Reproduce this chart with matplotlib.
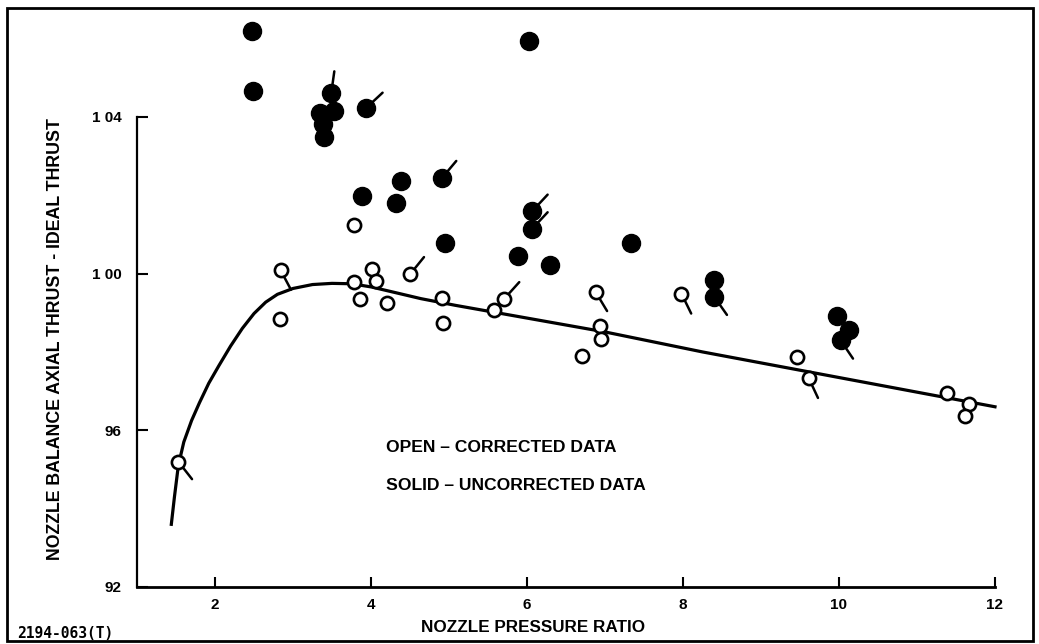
import math
import matplotlib.pyplot as plt
from matplotlib.patches import Rectangle

plt.rcParams['font.family'] = ['Liberation Sans', 'DejaVu Sans']

# Solid points - uncorrected data (flag angle in degrees, None = no flag)
solid_x = [2.48, 2.49, 3.49, 3.53, 3.35, 3.38, 3.40, 3.94, 4.38, 3.88, 4.32,
           4.91, 4.95, 6.03, 6.07, 6.07, 5.89, 6.29, 7.33, 8.40, 8.40,
           9.97, 10.13, 10.02]
solid_y = [106.18, 104.67, 104.60, 104.14, 104.11, 103.83, 103.49, 104.23,
           102.36, 101.97, 101.80, 102.44, 100.78, 105.94, 101.60, 101.15,
           100.45, 100.21, 100.78, 99.83, 99.41, 98.92, 98.56, 98.30]
solid_flag = [None, None, 82, None, None, None, None, 43, None, None, None,
              50, None, None, 47, 47, None, None, None, None, -55,
              None, None, -56]

# Open points - corrected data
open_x = [1.53, 2.83, 2.84, 3.78, 4.01, 4.07, 3.78, 4.50, 3.86, 4.21, 4.91,
          4.92, 5.58, 5.71, 6.88, 6.94, 6.95, 6.71, 7.98, 9.46, 9.61,
          11.38, 11.67, 11.61]
open_y = [95.20, 98.85, 100.09, 101.25, 100.11, 99.81, 99.79, 99.98, 99.36,
          99.24, 99.37, 98.73, 99.07, 99.36, 99.53, 98.67, 98.33, 97.90,
          99.49, 97.88, 97.34, 96.94, 96.66, 96.36]
open_flag = [-52, None, -62, None, None, None, None, 51, None, None, None,
             None, None, 48, -59, None, None, None, -64, None, -65,
             None, None, None]

# Faired curve
curve_x = [1.44, 1.48, 1.53, 1.60, 1.70, 1.80, 1.92, 2.05, 2.20, 2.35, 2.50,
           2.65, 2.80, 3.00, 3.25, 3.50, 3.75, 4.00, 4.30, 4.64, 5.08, 7.0,
           8.25, 12.0]
curve_y = [93.60, 94.30, 95.10, 95.70, 96.25, 96.70, 97.20, 97.65, 98.15,
           98.60, 98.98, 99.27, 99.47, 99.62, 99.72, 99.75, 99.74, 99.66,
           99.52, 99.36, 99.19, 98.51, 98.0, 96.6]

x_ticks = [2, 4, 6, 8, 10, 12]
y_ticks = [92, 96, 100, 104]
y_ticklabels = ['92', '96', '1 00', '1 04']

W, H = 1039, 644
fig = plt.figure(figsize=(W / 100, H / 100), dpi=100)
ax = fig.add_axes([137 / W, 1 - 587 / H, (995 - 137) / W, (587 - 15) / H])

ax.plot(curve_x, curve_y, color='black', lw=2.3, zorder=2, clip_on=False,
        solid_joinstyle='round')

flag_len = 16


def draw_flags(xs, ys, flags):
    for x, y, a in zip(xs, ys, flags):
        if a is None:
            continue
        dx = flag_len * math.cos(math.radians(a))
        dy = flag_len * math.sin(math.radians(a))
        ax.annotate('', xy=(x, y), xytext=(dx, dy), textcoords='offset points',
                    arrowprops=dict(arrowstyle='-', lw=1.8, color='black',
                                    shrinkA=0, shrinkB=0), zorder=3)


draw_flags(solid_x, solid_y, solid_flag)
draw_flags(open_x, open_y, open_flag)

ax.plot(solid_x, solid_y, 'o', ms=13, mfc='black', mec='black', zorder=4,
        clip_on=False)
ax.plot(open_x, open_y, 'o', ms=9.5, mfc='white', mec='black', mew=1.9,
        zorder=4, clip_on=False)

ax.set_xlim(1.0, 12.0)
ax.set_ylim(92, 106.6)
for s in ['top', 'right']:
    ax.spines[s].set_visible(False)
ax.spines['left'].set_bounds(92, 104)
ax.spines['left'].set_linewidth(1.6)
ax.spines['bottom'].set_linewidth(2.0)

ax.set_xticks(x_ticks)
ax.set_xticklabels([str(t) for t in x_ticks], fontsize=11, fontweight='bold')
ax.set_yticks(y_ticks)
ax.set_yticklabels(y_ticklabels, fontsize=11, fontweight='bold')
ax.tick_params(axis='x', direction='in', length=7, width=1.5, pad=8)
ax.tick_params(axis='y', direction='in', length=8, width=1.5, pad=11)

fig.text(533 / W, 1 - 628 / H, 'NOZZLE PRESSURE RATIO', ha='center',
         va='center', fontsize=12.3, fontweight='bold')
fig.text(56 / W, 1 - 339 / H, 'NOZZLE BALANCE AXIAL THRUST - IDEAL THRUST',
         ha='center', va='center', rotation=90, fontsize=12.8,
         fontweight='bold')
fig.text(386 / W, 1 - 447 / H, 'OPEN \u2013 CORRECTED DATA', ha='left',
         va='center', fontsize=12.6, fontweight='bold')
fig.text(386 / W, 1 - 486 / H, 'SOLID \u2013 UNCORRECTED DATA', ha='left',
         va='center', fontsize=12.6, fontweight='bold')
fig.text(17 / W, 1 - 634 / H, '2194-063(T)', ha='left', va='center',
         fontsize=10.5, fontweight='bold', family='DejaVu Sans Mono')

fig.patches.append(Rectangle((7 / W, 1 - 641 / H), (1033 - 7) / W,
                             (641 - 8) / H, transform=fig.transFigure,
                             fill=False, lw=2, ec='black'))

fig.savefig('out.png', dpi=100)
